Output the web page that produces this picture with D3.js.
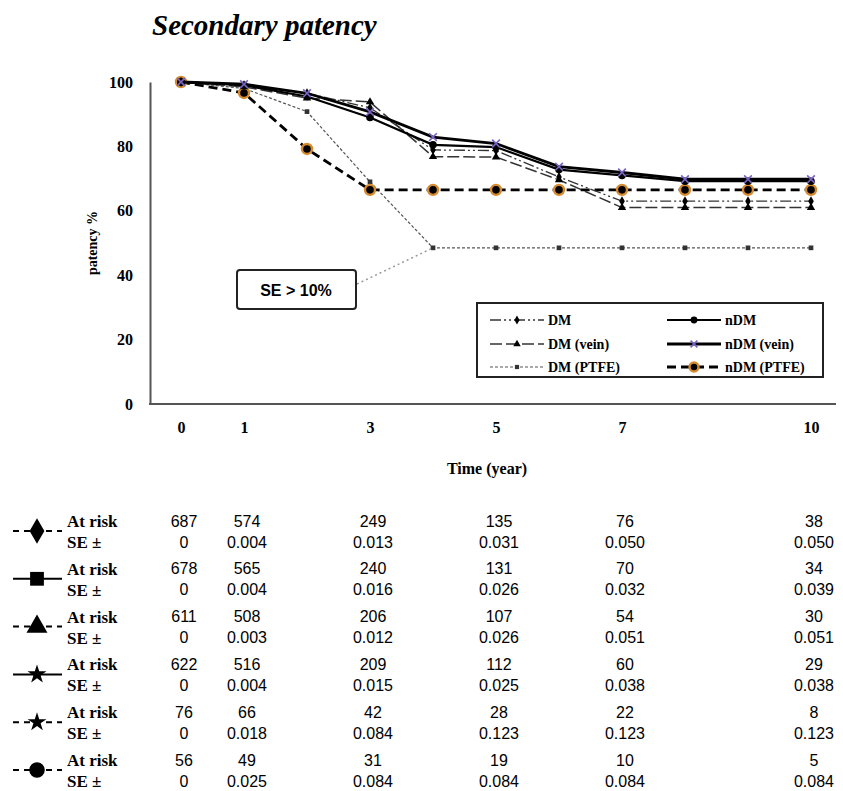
<!DOCTYPE html>
<html>
<head>
<meta charset="utf-8">
<script src="https://cdn.jsdelivr.net/npm/d3@7"></script>
<style>
  body { margin: 0; background: #fff; }
  .serif { font-family: "Liberation Serif", "Times New Roman", serif; font-weight: bold; }
  .sans { font-family: "Liberation Sans", Arial, sans-serif; }
</style>
</head>
<body>
<script>
// Data
const years = [0, 1, 2, 3, 4, 5, 6, 7, 8, 9, 10];
const dmValues      = [100, 99.0, 96.5, 92.0, 78.9, 78.7, 70.5, 63.0, 63.0, 63.0, 63.0];
const ndmValues     = [100, 99.0, 95.5, 89.0, 80.5, 79.8, 72.8, 71.0, 69.2, 69.2, 69.2];
const dmVeinValues  = [100, 98.5, 95.0, 93.8, 76.8, 76.7, 69.6, 61.0, 61.0, 61.0, 61.0];
const ndmVeinValues = [100, 99.3, 96.5, 90.7, 82.9, 80.9, 73.7, 71.9, 69.8, 69.8, 69.8];
const dmPtfeValues  = [100, 98.0, 90.8, 69.0, 48.5, 48.5, 48.5, 48.5, 48.5, 48.5, 48.5];
const ndmPtfeValues = [100, 96.6, 79.2, 66.5, 66.5, 66.5, 66.5, 66.5, 66.5, 66.5, 66.5];

const seriesNames = ["DM", "nDM", "DM (vein)", "nDM (vein)", "DM (PTFE)", "nDM (PTFE)"];
const yTicks = [0, 20, 40, 60, 80, 100];
const xTicks = [0, 1, 3, 5, 7, 10];

// At-risk table
const tableYears = [0, 1, 3, 5, 7, 10];
const atRiskDM      = ["687", "574", "249", "135", "76", "38"];
const atRiskNDM     = ["678", "565", "240", "131", "70", "34"];
const atRiskDMVein  = ["611", "508", "206", "107", "54", "30"];
const atRiskNDMVein = ["622", "516", "209", "112", "60", "29"];
const atRiskDMPtfe  = ["76", "66", "42", "28", "22", "8"];
const atRiskNDMPtfe = ["56", "49", "31", "19", "10", "5"];
const seDM      = ["0", "0.004", "0.013", "0.031", "0.050", "0.050"];
const seNDM     = ["0", "0.004", "0.016", "0.026", "0.032", "0.039"];
const seDMVein  = ["0", "0.003", "0.012", "0.026", "0.051", "0.051"];
const seNDMVein = ["0", "0.004", "0.015", "0.025", "0.038", "0.038"];
const seDMPtfe  = ["0", "0.018", "0.084", "0.123", "0.123", "0.123"];
const seNDMPtfe = ["0", "0.025", "0.084", "0.084", "0.084", "0.084"];

const width = 843, height = 791;

const svg = d3.select("body").append("svg")
    .attr("width", width)
    .attr("height", height);

const x = d3.scaleLinear().domain([0, 10]).range([181, 811]);
const y = d3.scaleLinear().domain([0, 100]).range([404, 82]);

// Title
svg.append("text")
    .attr("class", "serif")
    .attr("x", 152)
    .attr("y", 35)
    .style("font-style", "italic")
    .style("font-size", "29px")
    .text("Secondary patency");

// Axes
const yAxis = svg.append("g")
    .attr("transform", "translate(150,0)")
    .call(d3.axisLeft(y).tickValues(yTicks).tickSize(0).tickPadding(17));
yAxis.select(".domain").attr("stroke", "#555").attr("stroke-width", 2);
yAxis.selectAll("text").attr("class", "serif").style("font-size", "16px").attr("fill", "#000");

const xAxis = svg.append("g")
    .attr("transform", "translate(0,404)")
    .call(d3.axisBottom(x).tickValues(xTicks).tickSize(0).tickPadding(18));
xAxis.select(".domain").remove();
xAxis.selectAll("text").attr("class", "serif").style("font-size", "16px").attr("fill", "#000");

svg.append("line")
    .attr("x1", 149).attr("x2", 836)
    .attr("y1", 404).attr("y2", 404)
    .attr("stroke", "#555").attr("stroke-width", 2);

svg.append("text")
    .attr("class", "serif")
    .attr("transform", "translate(97,243) rotate(-90)")
    .attr("text-anchor", "middle")
    .style("font-size", "14px")
    .text("patency %");

svg.append("text")
    .attr("class", "serif")
    .attr("x", 487)
    .attr("y", 474)
    .attr("text-anchor", "middle")
    .style("font-size", "16px")
    .text("Time (year)");

// Series styles
const styles = [
    { values: dmValues,      dash: "11,3,2,3,2,3", width: 1.3, color: "#333", marker: "diamond" },
    { values: ndmValues,     dash: null,           width: 2.2, color: "#000", marker: "circle" },
    { values: dmVeinValues,  dash: "12,4",         width: 1.5, color: "#333", marker: "triangle" },
    { values: ndmVeinValues, dash: null,           width: 2.8, color: "#000", marker: "cross" },
    { values: dmPtfeValues,  dash: "3,2",          width: 1.2, color: "#555", marker: "square" },
    { values: ndmPtfeValues, dash: "9,5",          width: 2.8, color: "#000", marker: "ring" }
];

const line = d3.line()
    .x((d, i) => x(years[i]))
    .y(d => y(d));

function drawMarker(g, type, cx, cy, scale) {
    const s = scale || 1;
    if (type === "diamond") {
        g.append("path").attr("d", d3.symbol(d3.symbolDiamond, 28 * s)())
            .attr("transform", `translate(${cx},${cy})`).attr("fill", "#000");
    } else if (type === "circle") {
        g.append("circle").attr("cx", cx).attr("cy", cy).attr("r", 3.8 * Math.sqrt(s)).attr("fill", "#000");
    } else if (type === "triangle") {
        g.append("path").attr("d", d3.symbol(d3.symbolTriangle, 30 * s)())
            .attr("transform", `translate(${cx},${cy})`).attr("fill", "#000");
    } else if (type === "cross") {
        g.append("path").attr("d", d3.symbol(d3.symbolX, 40 * s)())
            .attr("transform", `translate(${cx},${cy})`)
            .attr("fill", "none").attr("stroke", "#7a62c4").attr("stroke-width", 1.6);
    } else if (type === "square") {
        g.append("path").attr("d", d3.symbol(d3.symbolSquare, 22 * s)())
            .attr("transform", `translate(${cx},${cy})`).attr("fill", "#333");
    } else if (type === "ring") {
        g.append("circle").attr("cx", cx).attr("cy", cy).attr("r", 5 * Math.sqrt(s))
            .attr("fill", "#000").attr("stroke", "#d68a2e").attr("stroke-width", 2.4);
    }
}

const drawOrder = [4, 5, 2, 0, 1, 3];
drawOrder.forEach(k => {
    const st = styles[k];
    const g = svg.append("g");
    g.append("path")
        .datum(st.values)
        .attr("d", line)
        .attr("fill", "none")
        .attr("stroke", st.color)
        .attr("stroke-width", st.width)
        .attr("stroke-dasharray", st.dash);
    st.values.forEach((v, i) => drawMarker(g, st.marker, x(years[i]), y(v)));
});

// SE > 10% callout
svg.append("line")
    .attr("x1", 357).attr("y1", 284)
    .attr("x2", x(4)).attr("y2", y(dmPtfeValues[4]))
    .attr("stroke", "#999").attr("stroke-width", 1.5)
    .attr("stroke-dasharray", "2,3");
svg.append("rect")
    .attr("x", 237).attr("y", 270)
    .attr("width", 119).attr("height", 39)
    .attr("rx", 3)
    .attr("fill", "#fff").attr("stroke", "#222").attr("stroke-width", 2);
svg.append("text")
    .attr("class", "sans")
    .attr("x", 296).attr("y", 296)
    .attr("text-anchor", "middle")
    .style("font-size", "16px").style("font-weight", "bold")
    .text("SE > 10%");

// Legend
svg.append("rect")
    .attr("x", 477).attr("y", 303)
    .attr("width", 346).attr("height", 74)
    .attr("fill", "#fff").attr("stroke", "#222").attr("stroke-width", 2);

const legendX = [490, 667];
const legendY = [320, 344, 367];
seriesNames.forEach((name, k) => {
    const col = k % 2, row = Math.floor(k / 2);
    const st = styles[k];
    const lx = legendX[col], ly = legendY[row];
    const g = svg.append("g");
    g.append("line")
        .attr("x1", lx).attr("x2", lx + 54)
        .attr("y1", ly).attr("y2", ly)
        .attr("stroke", st.color)
        .attr("stroke-width", st.width)
        .attr("stroke-dasharray", st.dash);
    drawMarker(g, st.marker, lx + 27, ly, 0.8);
    g.append("text")
        .attr("class", "serif")
        .attr("x", lx + 58).attr("y", ly + 5)
        .style("font-size", "14px")
        .text(name);
});

// At-risk table
const atRiskRows = [atRiskDM, atRiskNDM, atRiskDMVein, atRiskNDMVein, atRiskDMPtfe, atRiskNDMPtfe];
const seRows = [seDM, seNDM, seDMVein, seNDMVein, seDMPtfe, seNDMPtfe];
const tableSymbols = [d3.symbolDiamond, d3.symbolSquare, d3.symbolTriangle, d3.symbolStar, d3.symbolStar, d3.symbolCircle];
const tableDash = ["6,5", null, "6,5", null, "6,5", "6,5"];
const colX = d3.scaleLinear().domain([0, 10]).range([184, 814]);

atRiskRows.forEach((row, r) => {
    const top = 521 + r * 47.8;
    const g = svg.append("g");
    g.append("line")
        .attr("x1", 13).attr("x2", 62)
        .attr("y1", top + 10).attr("y2", top + 10)
        .attr("stroke", "#000").attr("stroke-width", 2)
        .attr("stroke-dasharray", tableDash[r]);
    g.append("path")
        .attr("d", d3.symbol(tableSymbols[r], r === 3 || r === 4 ? 110 : 190)())
        .attr("transform", `translate(37,${top + 10})`)
        .attr("fill", "#000");
    g.append("text").attr("class", "serif")
        .attr("x", 67).attr("y", top).attr("dy", "0.35em")
        .style("font-size", "17px").text("At risk");
    g.append("text").attr("class", "serif")
        .attr("x", 67).attr("y", top + 21).attr("dy", "0.35em")
        .style("font-size", "17px").text("SE \u00b1");
    row.forEach((v, i) => {
        g.append("text").attr("class", "sans")
            .attr("x", colX(tableYears[i])).attr("y", top).attr("dy", "0.35em")
            .attr("text-anchor", "middle")
            .style("font-size", "16px").text(v);
        g.append("text").attr("class", "sans")
            .attr("x", colX(tableYears[i])).attr("y", top + 21).attr("dy", "0.35em")
            .attr("text-anchor", "middle")
            .style("font-size", "16px").text(seRows[r][i]);
    });
});
</script>
</body>
</html>
